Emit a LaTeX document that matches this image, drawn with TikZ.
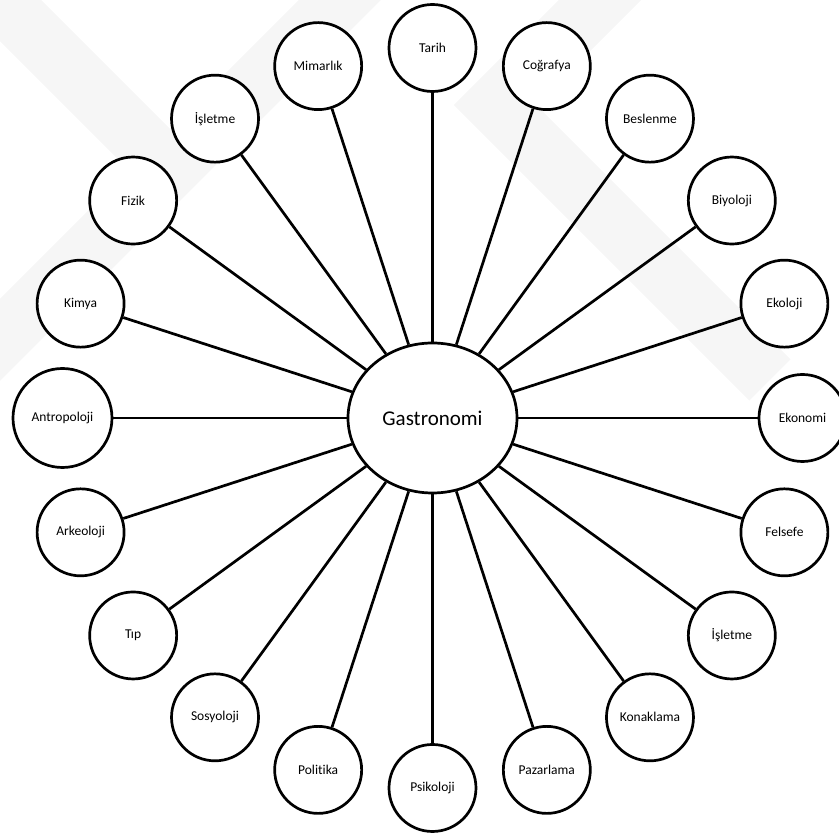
\documentclass[tikz,border=0pt]{standalone}
\usepackage{fontspec}
\setmainfont{Carlito}[Ligatures=NoCommon]
\usetikzlibrary{shapes.geometric}

\begin{document}
\begin{tikzpicture}[x=1pt,y=1pt]
\tikzset{
  field/.style={draw=black, fill=white, circle, line width=2.7pt, minimum size=87pt, inner sep=0pt, font=\fontsize{13.5}{16}\selectfont},
  hub/.style={draw=black, fill=white, ellipse, line width=2.7pt, minimum width=169pt, minimum height=150pt, inner sep=0pt, font=\fontsize{21}{25}\selectfont},
  link/.style={draw=black, line width=2.7pt},
  mark band/.style={draw=gray!7, line width=58pt, line join=miter}
}
\useasboundingbox (-432.5,-416) rectangle (406.5,418);
% faint watermark behind the figure
\begin{scope}[shift={(-432.5,418)}, yscale=-1]
\draw [mark band] (-40,380) -- (380,-40);
\draw [mark band] (-40,-40) -- (170,170);
\draw [mark band] (640,-40) -- (495,105) -- (770,380);
\end{scope}
% centre
\node [hub] (gastro) at (0,0) {Gastronomi};
% ring of fields
\node [field] (tarih) at (90:370) {Tarih};
\node [field] (cografya) at (72:370) {Coğrafya};
\node [field] (beslenme) at (54:370) {Beslenme};
\node [field] (biyoloji) at (36:370) {Biyoloji};
\node [field] (ekoloji) at (18:370) {Ekoloji};
\node [field] (ekonomi) at (0:370) {Ekonomi};
\node [field] (felsefe) at (-18:370) {Felsefe};
\node [field] (isletmeR) at (-36:370) {İşletme};
\node [field] (konaklama) at (-54:370) {Konaklama};
\node [field] (pazarlama) at (-72:370) {Pazarlama};
\node [field] (psikoloji) at (-90:370) {Psikoloji};
\node [field] (politika) at (-108:370) {Politika};
\node [field] (sosyoloji) at (-126:370) {Sosyoloji};
\node [field] (tip) at (-144:370) {Tıp};
\node [field] (arkeoloji) at (-162:370) {Arkeoloji};
\node [field, minimum size=99pt] (antropoloji) at (180:370) {Antropoloji};
\node [field] (kimya) at (162:370) {Kimya};
\node [field] (fizik) at (144:370) {Fizik};
\node [field] (isletmeL) at (126:370) {İşletme};
\node [field] (mimarlik) at (108:370) {Mimarlık};
% spokes
\draw [link] (tarih) -- (gastro);
\draw [link] (cografya) -- (gastro);
\draw [link] (beslenme) -- (gastro);
\draw [link] (biyoloji) -- (gastro);
\draw [link] (ekoloji) -- (gastro);
\draw [link] (ekonomi) -- (gastro);
\draw [link] (felsefe) -- (gastro);
\draw [link] (isletmeR) -- (gastro);
\draw [link] (konaklama) -- (gastro);
\draw [link] (pazarlama) -- (gastro);
\draw [link] (psikoloji) -- (gastro);
\draw [link] (politika) -- (gastro);
\draw [link] (sosyoloji) -- (gastro);
\draw [link] (tip) -- (gastro);
\draw [link] (arkeoloji) -- (gastro);
\draw [link] (antropoloji) -- (gastro);
\draw [link] (kimya) -- (gastro);
\draw [link] (fizik) -- (gastro);
\draw [link] (isletmeL) -- (gastro);
\draw [link] (mimarlik) -- (gastro);
\end{tikzpicture}
\end{document}
